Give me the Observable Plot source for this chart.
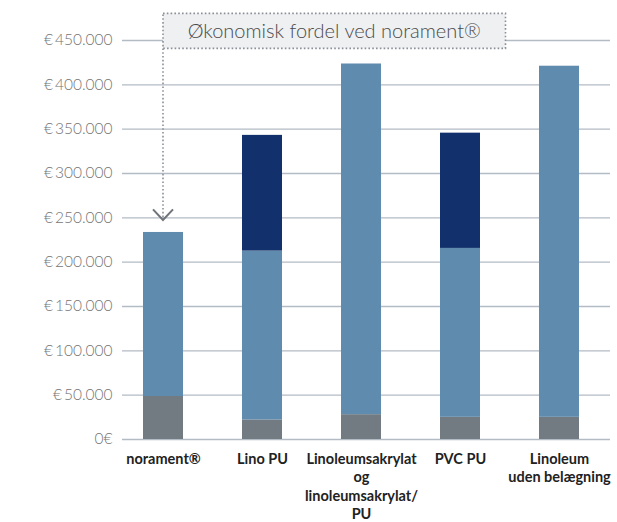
<!DOCTYPE html>
<html><head><meta charset="utf-8">
<script src="https://cdn.jsdelivr.net/npm/d3@7"></script>
<script src="https://cdn.jsdelivr.net/npm/@observablehq/plot@0.6"></script>
<style>body{margin:0;background:#fff} #chart svg{display:block}</style>
</head><body><div id="chart"></div>
<script>
const categories = ["norament®", "Lino PU", "Linoleumsakrylat/PU", "PVC PU", "Linoleum uden belægning"];
const xLabels = ["norament®", "Lino PU", "Linoleumsakrylat\nog\nlinoleumsakrylat/\nPU", "PVC PU", "Linoleum\nuden belægning"];
const baseCost = [48500, 22000, 28000, 25000, 25000];
const midCost = [185000, 190500, 395500, 190500, 396000];
const extraCost = [0, 130500, 0, 130000, 0];
const seriesNames = ["base", "mid", "extra"];
const seriesColors = ["#737b82", "#5f8bae", "#12306b"];
const yTicks = [0, 50000, 100000, 150000, 200000, 250000, 300000, 350000, 400000, 450000];
const yTickLabels = ["0€", "€\u200950.000", "€\u2009100.000", "€\u2009150.000", "€\u2009200.000", "€\u2009250.000", "€\u2009300.000", "€\u2009350.000", "€\u2009400.000", "€\u2009450.000"];
const annotationText = "Økonomisk fordel ved norament®";
const annotationY = [440500, 480000];
const arrowTipY = 247000;
const arrowArmY = 259000;

const rows = [];
categories.forEach((c, i) => {
  rows.push({cat: c, series: "base", value: baseCost[i]});
  rows.push({cat: c, series: "mid", value: midCost[i]});
  rows.push({cat: c, series: "extra", value: extraCost[i]});
});

function annotation(index, scales, values, dims) {
  const x = scales.x, y = scales.y;
  const bw = x.bandwidth ? x.bandwidth() : 40;
  const cx = x(categories[0]) + bw / 2;
  const right = x(categories[3]) + bw + 25.5;
  const top = y(annotationY[1]), bottom = y(annotationY[0]);
  const g = d3.create("svg:g");
  g.append("rect").attr("x", cx).attr("y", top).attr("width", right - cx).attr("height", bottom - top)
    .attr("fill", "#eef0f2").attr("stroke", "#8b9096").attr("stroke-width", 1.6).attr("stroke-dasharray", "1.6,2.2");
  g.append("text").attr("x", (cx + right) / 2).attr("y", (top + bottom) / 2).attr("dy", "0.35em")
    .attr("text-anchor", "middle").attr("font-size", 20).attr("font-weight", 300).attr("fill", "#4a4a4a")
    .attr("font-family", "Lato, sans-serif").text(annotationText);
  g.append("line").attr("x1", cx).attr("x2", cx).attr("y1", bottom).attr("y2", y(arrowTipY))
    .attr("stroke", "#8b9096").attr("stroke-width", 1.6).attr("stroke-dasharray", "1.6,2.2");
  g.append("path").attr("d", `M${cx - 10},${y(arrowArmY)}L${cx},${y(arrowTipY)}L${cx + 10},${y(arrowArmY)}`)
    .attr("fill", "none").attr("stroke", "#6e747a").attr("stroke-width", 2);
  return g.node();
}

const chart = Plot.plot({
  width: 617,
  height: 522,
  marginTop: 40,
  marginBottom: 83,
  marginLeft: 122,
  marginRight: 7,
  style: {fontFamily: "Lato, sans-serif", background: "#fff"},
  x: {domain: categories, range: [111.3, 610.3], paddingInner: 0.6, paddingOuter: 0.3, axis: null},
  y: {domain: [0, 450000], label: null},
  color: {domain: seriesNames, range: seriesColors},
  marks: [
    Plot.ruleY(yTicks, {stroke: "#b3bbc5", strokeWidth: 1.4}),
    Plot.barY(rows, {x: "cat", y: "value", fill: "series", order: seriesNames}),
    Plot.axisY(yTicks, {label: null, tickSize: 0, tickPadding: 10, tickFormat: d => yTickLabels[yTicks.indexOf(d)], fontSize: 15.5, color: "#747474", fontWeight: 300}),
    Plot.text(categories, {x: d => d, y: () => 0, text: (d, i) => xLabels[i], lineAnchor: "top", dy: 11, lineHeight: 1.28, fontWeight: "bold", fontSize: 14.5, fill: "#222"}),
    annotation
  ]
});
document.getElementById("chart").append(chart);
</script>
</body></html>
